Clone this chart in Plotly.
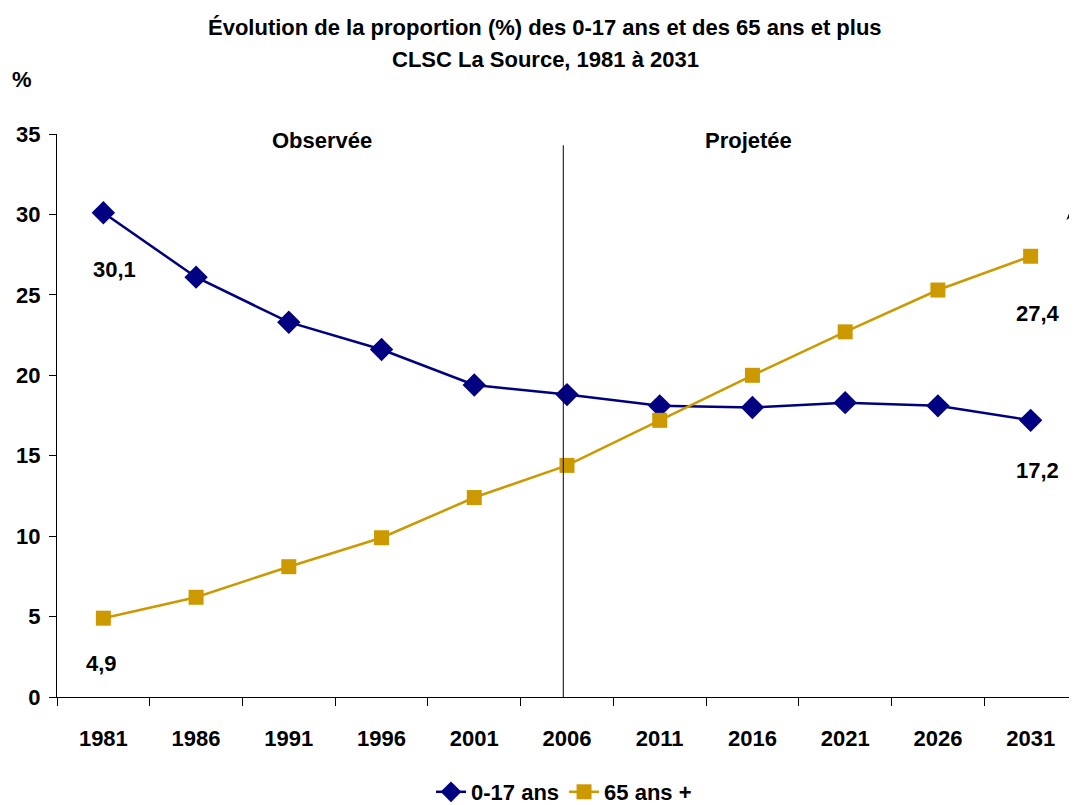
import plotly.graph_objects as go

years = ["1981", "1986", "1991", "1996", "2001", "2006", "2011", "2016", "2021", "2026", "2031"]
jeunes = [30.1, 26.1, 23.3, 21.6, 19.4, 18.8, 18.1, 18.0, 18.3, 18.1, 17.2]
aines = [4.9, 6.2, 8.1, 9.9, 12.4, 14.4, 17.2, 20.0, 22.7, 25.3, 27.4]
y_ticks = [0, 5, 10, 15, 20, 25, 30, 35]
split_year = "2006"
title_lines = ["Évolution de la proportion (%) des 0-17 ans et des 65 ans et plus",
               "CLSC La Source, 1981 à 2031"]

FONT = "Liberation Sans Narrow, Arial Narrow, Liberation Sans, Arial, sans-serif"
NAVY = "#000080"
GOLD = "#CC9900"

# page offset of 8px (body margin) is accounted for in margins
OFF = 8
W, H = 1077 - OFF, 805 - OFF
L, T, B = 57 - OFF, 134 - OFF, 108
PW, PH = W - L, H - T - B


def px(X, Y):
    """screen pixel -> paper coords"""
    return (X - 57) / PW, (697 - Y) / PH


fig = go.Figure()
fig.add_trace(go.Scatter(
    x=years, y=jeunes, name="0-17 ans", mode="lines+markers",
    line=dict(color=NAVY, width=2.5),
    marker=dict(symbol="diamond", size=18, color=NAVY),
))
fig.add_trace(go.Scatter(
    x=years, y=aines, name="65 ans +", mode="lines+markers",
    line=dict(color=GOLD, width=2.5),
    marker=dict(symbol="square", size=15, color=GOLD),
))

split_idx = years.index(split_year)
fig.add_shape(type="line", xref="x", yref="y", x0=split_idx - 0.04, x1=split_idx - 0.04,
              y0=0, y1=34.3, line=dict(color="black", width=1))

# small cut-off stroke at the right edge
a = px(1068, 218); b = px(1077, 196); c = px(1077, 212)
fig.add_shape(type="path", xref="paper", yref="paper",
              path=f"M {b[0]} {b[1]} L {a[0]} {a[1]} L {c[0]} {c[1]}",
              line=dict(color="black", width=1.5))

lab_font = dict(family=FONT, size=22, color="black", weight="bold")


def fmt(v):
    return f"{v:.1f}".replace(".", ",")


last = len(years) - 1
fig.add_annotation(x=0, y=jeunes[0], text=fmt(jeunes[0]), xref="x", yref="y",
                   showarrow=False, font=lab_font, xshift=11, yshift=-57)
fig.add_annotation(x=0, y=aines[0], text=fmt(aines[0]), xref="x", yref="y",
                   showarrow=False, font=lab_font, xshift=-2, yshift=-45)
fig.add_annotation(x=last, y=aines[-1], text=fmt(aines[-1]), xref="x", yref="y",
                   showarrow=False, font=lab_font, xshift=7, yshift=-57)
fig.add_annotation(x=last, y=jeunes[-1], text=fmt(jeunes[-1]), xref="x", yref="y",
                   showarrow=False, font=lab_font, xshift=7, yshift=-50)

for txt, X, Y in [("Observée", 322, 141), ("Projetée", 748, 141), ("%", 22, 80),
                  (title_lines[0], 545, 27), (title_lines[1], 545, 59)]:
    p = px(X, Y)
    fig.add_annotation(x=p[0], y=p[1], text=txt, xref="paper", yref="paper",
                       showarrow=False, font=lab_font, xanchor="center", yanchor="middle")

lgx = px(564, 0)[0]
lgy = 1 - (792 - OFF) / H
fig.update_layout(
    width=W, height=H,
    paper_bgcolor="white", plot_bgcolor="white",
    margin=dict(l=L, r=0, t=T, b=B, autoexpand=False),
    font=dict(family=FONT, size=22, color="black", weight="bold"),
    showlegend=True,
    legend=dict(orientation="h", x=lgx, xanchor="center",
                yref="container", y=lgy, yanchor="middle",
                font=dict(family=FONT, size=22, color="black", weight="bold"),
                tracegroupgap=0),
    xaxis=dict(
        type="category", range=[-0.5, len(years) - 0.5],
        showgrid=False, zeroline=False,
        showline=True, linecolor="black", linewidth=1,
        ticks="outside", tickson="boundaries", ticklen=8, tickcolor="black",
        tickfont=dict(family=FONT, size=22, color="black", weight="bold"),
        ticklabelstandoff=22,
        fixedrange=True,
    ),
    yaxis=dict(
        range=[0, 35], tickvals=y_ticks,
        showgrid=False, zeroline=False,
        showline=True, linecolor="black", linewidth=1,
        ticks="outside", ticklen=7, tickcolor="black",
        tickfont=dict(family=FONT, size=22, color="black", weight="bold"),
        ticklabelstandoff=4,
        fixedrange=True,
    ),
)

fig.write_html("out.html")
